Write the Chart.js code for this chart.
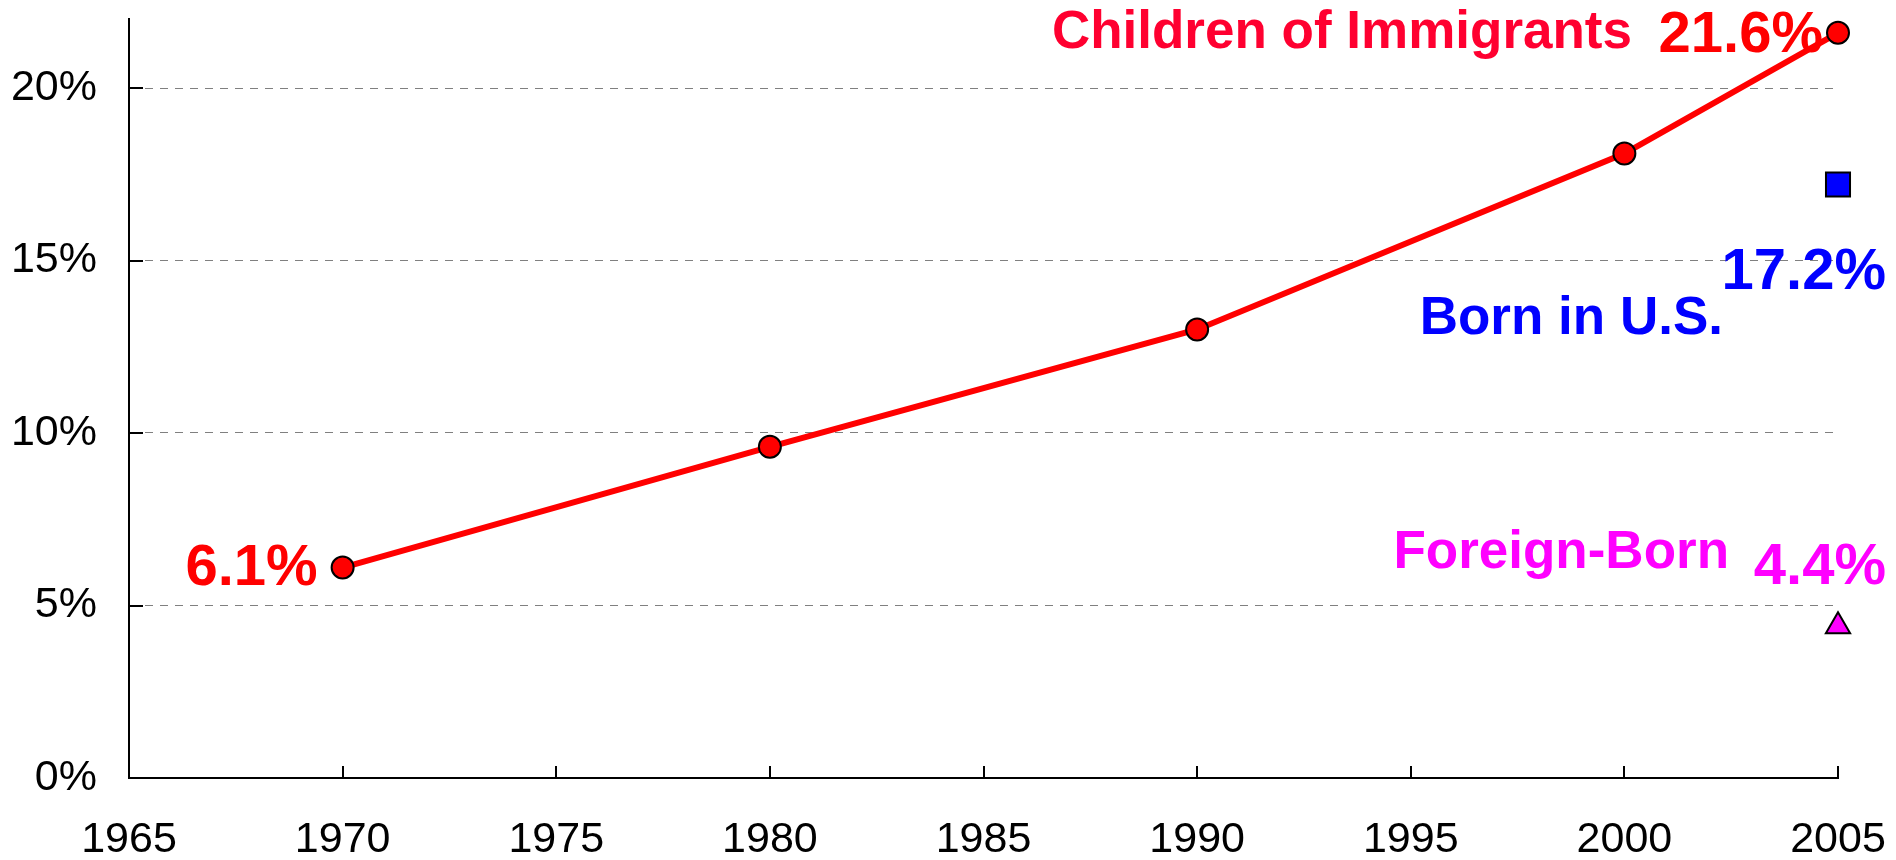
<!DOCTYPE html>
<html>
<head>
<meta charset="utf-8">
<script src="https://cdn.jsdelivr.net/npm/chart.js@4.4.1/dist/chart.umd.min.js"></script>
<style>
  html, body { margin: 0; background: #fff; }
  #wrap { width: 1896px; height: 860px; }
</style>
</head>
<body>
<div id="wrap"><canvas id="chart"></canvas></div>
<script>
// Data
const years = [1970, 1980, 1990, 2000, 2005];
const childrenOfImmigrants = [6.1, 9.6, 13.0, 18.1, 21.6];
const bornInUSYears = [2005];
const bornInUS = [17.2];
const foreignBornYears = [2005];
const foreignBorn = [4.4];
const xTickValues = [1965, 1970, 1975, 1980, 1985, 1990, 1995, 2000, 2005];
const yTickValues = [0, 5, 10, 15, 20];

const FONT = '"Liberation Sans", Arial, sans-serif';
const toPoints = (xs, ys) => xs.map((x, i) => ({ x: x, y: ys[i] }));

// short tick marks drawn inward from the axes
const innerTicks = {
    id: 'innerTicks',
    afterDraw(chart) {
        const ctx = chart.ctx;
        const x = chart.scales.x, y = chart.scales.y;
        const area = chart.chartArea;
        ctx.save();
        ctx.strokeStyle = '#000';
        ctx.lineWidth = 2;
        ctx.beginPath();
        xTickValues.forEach(v => {
            const px = Math.round(x.getPixelForValue(v));
            ctx.moveTo(px, area.bottom);
            ctx.lineTo(px, area.bottom - 12);
        });
        yTickValues.forEach(v => {
            const py = Math.round(y.getPixelForValue(v));
            ctx.moveTo(area.left, py);
            ctx.lineTo(area.left + 14, py);
        });
        ctx.stroke();
        ctx.restore();
    }
};

// series names and values next to the points
const seriesLabels = {
    id: 'seriesLabels',
    afterDatasetsDraw(chart) {
        const ctx = chart.ctx;
        const c = chart.getDatasetMeta(0).data;
        const b = chart.getDatasetMeta(1).data[0];
        const f = chart.getDatasetMeta(2).data[0];
        const first = c[0], last = c[c.length - 1];
        const nameFont = 'bold 53px ' + FONT;
        const valFont = 'bold 58px ' + FONT;
        ctx.save();
        ctx.textBaseline = 'middle';
        ctx.textAlign = 'right';

        ctx.font = valFont;
        ctx.fillStyle = '#ff0000';
        ctx.fillText(childrenOfImmigrants[0].toFixed(1) + '%', first.x - 25, first.y + 1);
        ctx.fillText(childrenOfImmigrants[childrenOfImmigrants.length - 1].toFixed(1) + '%', last.x - 15, last.y + 3);
        ctx.font = nameFont;
        ctx.fillStyle = '#ff0030';
        ctx.fillText('Children of Immigrants', last.x - 206, last.y + 1);

        ctx.fillStyle = '#0000ff';
        ctx.font = valFont;
        ctx.fillText(bornInUS[0].toFixed(1) + '%', b.x + 48, b.y + 88);
        ctx.font = nameFont;
        ctx.fillText('Born in U.S.', b.x - 115, b.y + 135);

        ctx.fillStyle = '#ff00ff';
        ctx.font = nameFont;
        ctx.fillText('Foreign-Born', f.x - 109, f.y - 73);
        ctx.font = valFont;
        ctx.fillText(foreignBorn[0].toFixed(1) + '%', f.x + 48, f.y - 58);
        ctx.restore();
    }
};

const noPad = s => { s.paddingTop = 0; s.paddingBottom = 0; s.paddingLeft = 0; s.paddingRight = 0; };

new Chart(document.getElementById('chart'), {
    type: 'scatter',
    data: {
        datasets: [
            {
                label: 'Children of Immigrants',
                data: toPoints(years, childrenOfImmigrants),
                showLine: true,
                clip: false,
                borderColor: '#ff0000',
                borderWidth: 6,
                pointRadius: 11,
                pointBackgroundColor: '#ff0000',
                pointBorderColor: '#000',
                pointBorderWidth: 2
            },
            {
                label: 'Born in U.S.',
                data: toPoints(bornInUSYears, bornInUS),
                clip: false,
                pointStyle: 'rect',
                pointRadius: 17,
                pointBackgroundColor: '#0000ff',
                pointBorderColor: '#000',
                pointBorderWidth: 2
            },
            {
                label: 'Foreign-Born',
                data: toPoints(foreignBornYears, foreignBorn),
                clip: false,
                pointStyle: 'triangle',
                pointRadius: 14,
                pointBackgroundColor: '#ff00ff',
                pointBorderColor: '#000',
                pointBorderWidth: 2
            }
        ]
    },
    options: {
        responsive: true,
        maintainAspectRatio: false,
        animation: false,
        layout: { padding: { left: 0, right: 58, top: 19, bottom: 0 } },
        plugins: { legend: { display: false }, tooltip: { enabled: false } },
        scales: {
            x: {
                type: 'linear',
                min: 1965, max: 2005,
                afterBuildTicks: s => { s.ticks = xTickValues.map(v => ({ value: v })); },
                afterFit: s => { s.height = 82; noPad(s); },
                ticks: { color: '#000', font: { family: FONT, size: 43 }, padding: 36, maxRotation: 0,
                         callback: v => String(v) },
                grid: { drawOnChartArea: false, drawTicks: false },
                border: { display: true, color: '#000', width: 2 }
            },
            y: {
                min: 0, max: 22,
                afterBuildTicks: s => { s.ticks = yTickValues.map(v => ({ value: v })); },
                afterFit: s => { s.width = 129; noPad(s); },
                ticks: { color: '#000', font: { family: FONT, size: 43 }, padding: 32,
                         callback: v => v + '%' },
                grid: {
                    drawTicks: false,
                    lineWidth: 1,
                    color: c => (c.tick && c.tick.value === 0) ? 'rgba(0,0,0,0)' : '#808080'
                },
                border: { display: true, color: '#000', width: 2, dash: [8, 7] }
            }
        }
    },
    plugins: [innerTicks, seriesLabels]
});
</script>
</body>
</html>
